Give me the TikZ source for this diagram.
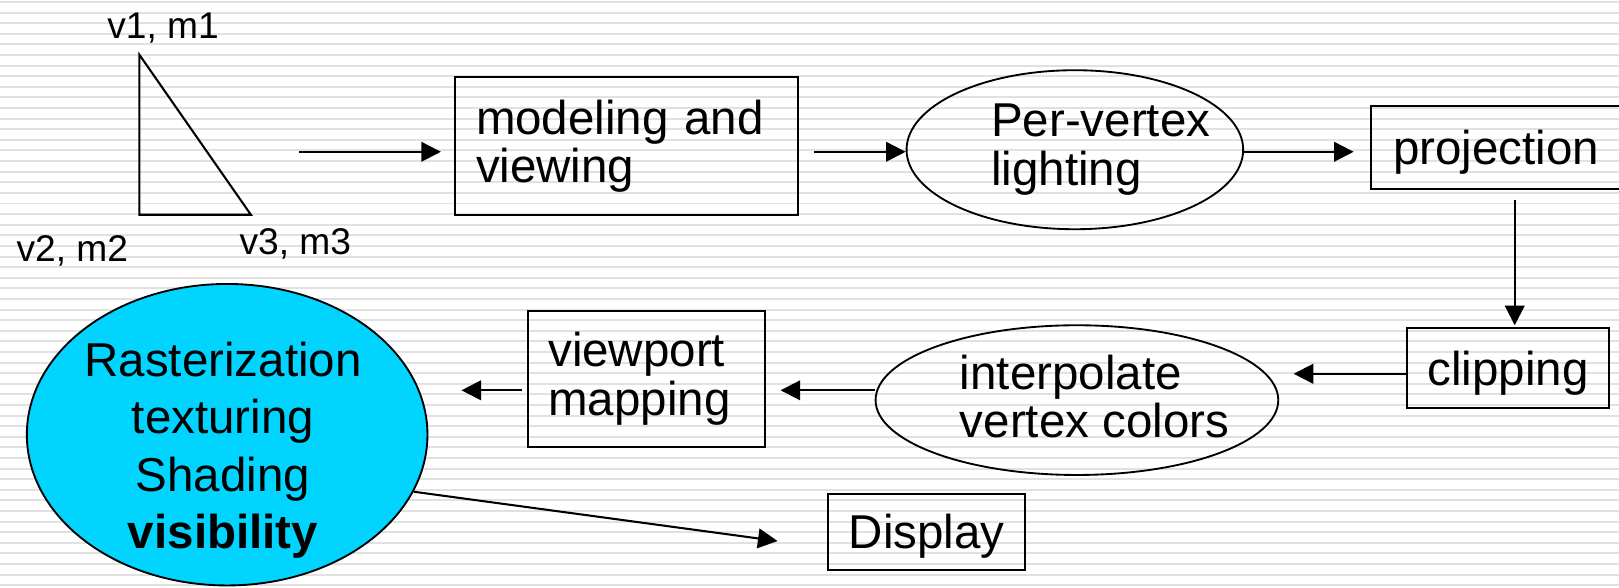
\documentclass[tikz,border=0pt]{standalone}
\usepackage{fontspec}
\setmainfont{Liberation Sans}
\usetikzlibrary{arrows.meta,shapes.geometric,calc}
\definecolor{stripe}{RGB}{225,225,225}
\definecolor{cyanfill}{RGB}{0,212,255}
\begin{document}
\begin{tikzpicture}[x=0.5pt,y=-0.5pt,
  every node/.style={font=\fontsize{23}{23.5}\selectfont},
  boxnode/.style={draw,line width=1pt,rectangle,inner xsep=10pt,inner ysep=0pt},
  onebox/.style={boxnode,text depth=0pt},
  ellnode/.style={draw,line width=0.9pt,ellipse,inner sep=0pt},
  arr/.style={line width=1pt,-{Triangle[length=9.5pt,width=9.5pt]}},
  lbl/.style={font=\fontsize{18}{20}\selectfont,anchor=base}]
\useasboundingbox (0,0) rectangle (1568,569);
\clip (0,0) rectangle (1568,569);
\fill[white] (0,0) rectangle (1568,569);
\foreach \i in {0,...,55} \fill[stripe] (0,{1+\i*10.27}) rectangle (1568,{2.9+\i*10.27});

% triangle and its vertex labels
\draw[line width=1pt] (135,53) -- (135,208) -- (243,208) -- cycle;
\node[lbl] (v1) at (158,37) {v1, m1};
\node[lbl] (v2) at (70,253) {v2, m2};
\node[lbl] (v3) at (286,246) {v3, m3};

% nodes
\node[boxnode, minimum width=166pt, minimum height=66.5pt, text width=146pt, align=left] (model) at (607,141.5) {modeling and\\viewing};
\node[ellnode, minimum width=163pt, minimum height=77pt] (light) at (1041,145) {};
\node[align=left] (lighttxt) at (1066,145) {Per-vertex\\lighting};
\node[onebox, minimum width=121pt, minimum height=40pt] (proj) at (1449,143) {projection};
\node[onebox, minimum width=97.5pt, minimum height=38.5pt] (clip) at (1460.5,356.5) {clipping};
\node[ellnode, minimum width=195pt, minimum height=72.5pt] (interp) at (1043,387.5) {};
\node[align=left] (interptxt) at (1060,384) {interpolate\\vertex colors};
\node[boxnode, minimum width=115pt, minimum height=66pt, text width=95pt, align=left] (vp) at (626,367) {viewport\\mapping};
\node[ellnode, fill=cyanfill, minimum width=194pt, minimum height=146pt] (rast) at (220,421) {};
\node[align=center, font=\fontsize{23}{27.75}\selectfont] (rasttxt) at (216,436) {Rasterization\\texturing\\Shading\\\textbf{visibility}};
\node[onebox, minimum width=92.5pt, minimum height=37pt] (disp) at (897.5,515) {Display};

% connectors
\coordinate (a1s) at (290,147);
\draw[arr] (a1s) -- ([xshift=-6.5pt,yshift=-2.75pt]model.west);
\draw[arr] ([xshift=7pt,yshift=-2.75pt]model.east) -- ([yshift=-1pt]light.west);
\draw[arr] ([yshift=-1pt]light.east) -- ([xshift=-8pt,yshift=-2pt]proj.west);
\draw[arr] ([xshift=9pt,yshift=-5pt]proj.south) -- ([xshift=3.25pt,yshift=1pt]clip.north);
\draw[arr] ([yshift=-2.75pt]clip.west) -- ([xshift=7pt,yshift=12.75pt]interp.east);
\draw[arr] ([yshift=4.75pt]interp.west) -- ([xshift=7pt,yshift=-5.5pt]vp.east);
\draw[arr] ([xshift=-2pt,yshift=-5.5pt]vp.west) -- ([xshift=16pt,yshift=21.5pt]rast.east);
\draw[arr] (rast.-17) -- ([xshift=-24pt,yshift=-4.5pt]disp.west);
\end{tikzpicture}
\end{document}
